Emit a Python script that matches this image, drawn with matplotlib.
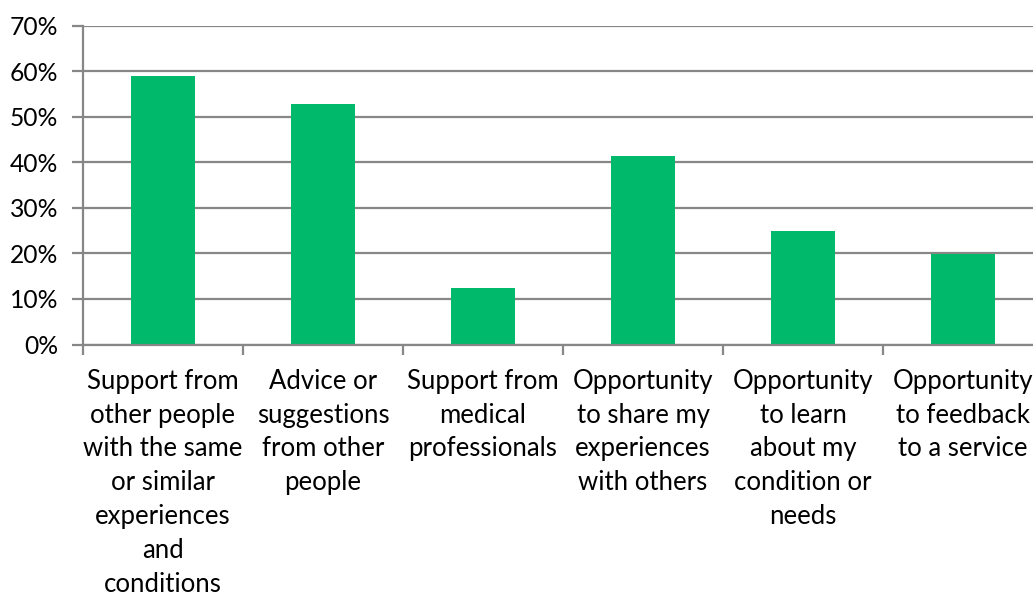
import matplotlib
matplotlib.use("Agg")
import matplotlib.pyplot as plt
from matplotlib.ticker import PercentFormatter
import numpy as np

categories = [
    "Support from\nother people\nwith the same\nor similar\nexperiences\nand\nconditions",
    "Advice or\nsuggestions\nfrom other\npeople",
    "Support from\nmedical\nprofessionals",
    "Opportunity\nto share my\nexperiences\nwith others",
    "Opportunity\nto learn\nabout my\ncondition or\nneeds",
    "Opportunity\nto feedback\nto a service",
]
values = [58.9, 52.7, 12.4, 41.3, 24.9, 19.8]

plt.rcParams["font.family"] = ["Lato", "DejaVu Sans"]

grid_col = "#878787"
bar_col = "#00B96B"


def main():
    fig = plt.figure(figsize=(10.33, 5.96), dpi=100)
    # the plot area runs slightly past the right edge of the picture
    ax = fig.add_axes([83 / 1033, 251.5 / 596, 960 / 1033, 319 / 596])

    x = np.arange(len(categories))
    ax.bar(x, values, width=0.4, color=bar_col, zorder=3)

    ax.set_xlim(-0.5, len(categories) - 0.5)
    ax.set_ylim(0, 70)
    ax.set_yticks(np.arange(0, 71, 10))
    ax.yaxis.set_major_formatter(PercentFormatter(decimals=0))
    ax.yaxis.grid(True, color=grid_col, linewidth=1.6, zorder=0)

    # category boundaries carry the ticks, labels sit at the centres
    ax.set_xticks(np.arange(-0.5, len(categories), 1.0))
    ax.set_xticklabels([])
    ax.set_xticks(x, minor=True)
    ax.set_xticklabels(categories, minor=True, fontsize=18.5, linespacing=1.44,
                       va="top", multialignment="center")
    ax.tick_params(axis="x", which="major", length=7, width=1.6, color=grid_col)
    ax.tick_params(axis="x", which="minor", length=0, pad=17.5)
    ax.tick_params(axis="y", length=8, width=1.6, color=grid_col, labelsize=17.7, pad=10)

    for s in ["top", "right"]:
        ax.spines[s].set_visible(False)
    for s in ["left", "bottom"]:
        ax.spines[s].set_color(grid_col)
        ax.spines[s].set_linewidth(1.6)
        ax.spines[s].set_zorder(4)

    fig.savefig("out.png", dpi=100)


if __name__ == "__main__":
    main()
